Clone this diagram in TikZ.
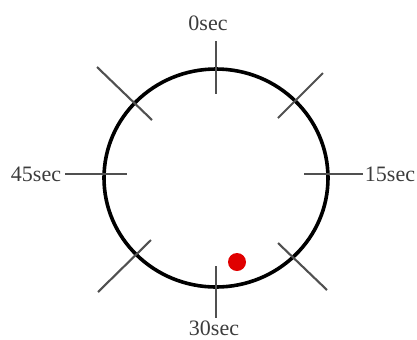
\documentclass[tikz,border=0pt]{standalone}
\usepackage{fontspec}
\setmainfont{Liberation Serif}
\usepackage{xcolor}
\usepackage{tikz}
\usetikzlibrary{calc}
\definecolor{tickgray}{HTML}{505050}
\definecolor{labelgray}{HTML}{3C3C3C}
\definecolor{dotred}{HTML}{E00000}

\begin{document}
\begin{tikzpicture}[x=0.5pt, y=-0.5pt, line join=round,
  tick/.style={draw=tickgray, line width=1.05pt},
  rim/.style={draw=black, line width=1.8pt},
  seclabel/.style={text=labelgray, inner sep=0pt, font=\fontsize{11}{13}\selectfont}]
  \useasboundingbox (0,0) rectangle (417,339);
  \coordinate (M) at (216,178);
  % clock face
  \draw[rim] (M) ellipse [x radius=112, y radius=109];
  % quarter ticks
  \coordinate (T0a) at (216,41);
  \coordinate (T0b) at (216,94);
  \coordinate (T15a) at (304,174);
  \coordinate (T15b) at (363,174);
  \coordinate (T30a) at (216,266);
  \coordinate (T30b) at (216,318);
  \coordinate (T45a) at (65,174);
  \coordinate (T45b) at (127,174);
  % diagonal ticks
  \coordinate (D1a) at (97,67);
  \coordinate (D1b) at (152,120);
  \coordinate (D2a) at (278,118);
  \coordinate (D2b) at (323,73);
  \coordinate (D3a) at (278,243);
  \coordinate (D3b) at (327,290);
  \coordinate (D4a) at (98,292);
  \coordinate (D4b) at (151,240);
  \draw[tick] (T0a) -- (T0b);
  \draw[tick] (T15a) -- (T15b);
  \draw[tick] (T30a) -- (T30b);
  \draw[tick] (T45a) -- (T45b);
  \draw[tick] (D1a) -- (D1b);
  \draw[tick] (D2a) -- (D2b);
  \draw[tick] (D3a) -- (D3b);
  \draw[tick] (D4a) -- (D4b);
  % labels
  \node[seclabel] (L0) at (208,23) {0sec};
  \node[seclabel] (L15) at (390,174) {15sec};
  \node[seclabel] (L30) at (214,328) {30sec};
  \node[seclabel] (L45) at (36,174) {45sec};
  % marker
  \fill[dotred] (237,262) circle (9);
\end{tikzpicture}
\end{document}
